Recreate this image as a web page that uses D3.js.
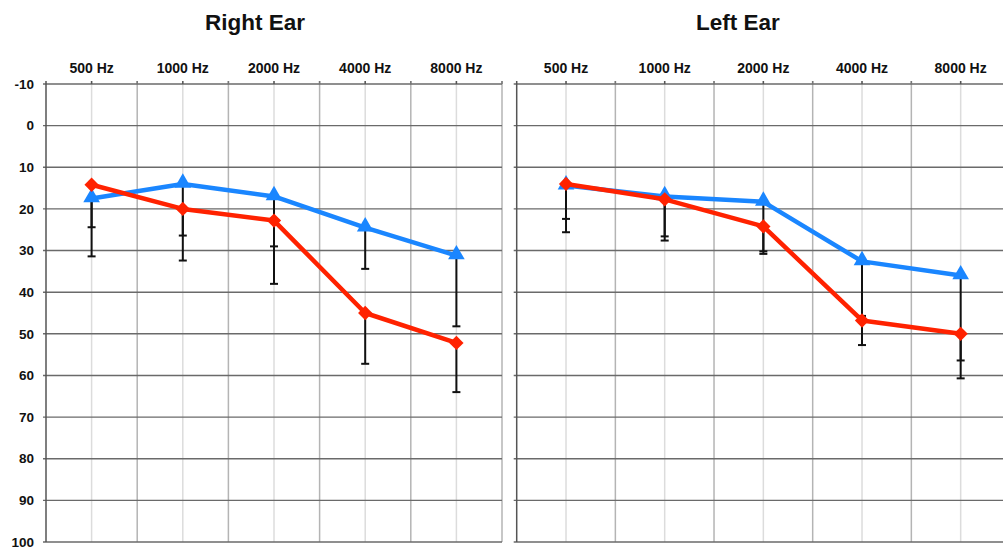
<!DOCTYPE html>
<html><head><meta charset="utf-8">
<script src="https://cdn.jsdelivr.net/npm/d3@7"></script>
<style>body{margin:0;background:#fff}svg{display:block}text{font-family:"Liberation Sans",Arial,sans-serif;font-weight:bold;fill:#111}</style>
</head><body><svg id="c" width="1003" height="550"></svg>
<script>
const freqs = ["500 Hz","1000 Hz","2000 Hz","4000 Hz","8000 Hz"];
const yTicks = [-10,0,10,20,30,40,50,60,70,80,90,100];
const panelTitles = ["Right Ear","Left Ear"];
// Right ear
const rightRed = [14.2, 20, 22.8, 45, 52.2];
const rightRedErr = [24.4, 26.4, 38, 57.2, 64];
const rightBlue = [17.5, 14, 17, 24.5, 31.2];
const rightBlueErr = [31.4, 32.4, 29, 34.4, 48.2];
// Left ear
const leftRed = [14, 17.7, 24.2, 46.8, 50];
const leftRedErr = [22.4, 26.6, 30.2, 52.7, 60.7];
const leftBlue = [14.4, 17, 18.3, 32.6, 36];
const leftBlueErr = [25.6, 27.6, 30.8, 45.7, 56.4];

const svg = d3.select("#c");
const y = d3.scaleLinear().domain([-10,100]).range([84,542]);
const RED = "#ff2200", BLUE = "#1a86ff";

const panels = [
  {title: panelTitles[0], x0: 46, x1: 502, tx: 255, yLabels: true,
   red: rightRed, redErr: rightRedErr, blue: rightBlue, blueErr: rightBlueErr},
  {title: panelTitles[1], x0: 516.7, x1: 1010, tx: 738, yLabels: false,
   red: leftRed, redErr: leftRedErr, blue: leftBlue, blueErr: leftBlueErr}
];

panels.forEach(p => {
  const g = svg.append("g");
  const x = d3.scaleBand().domain(freqs).range([p.x0, p.x1]).padding(0);
  const cx = f => x(f) + x.bandwidth()/2;
  const bounds = freqs.map(f => x(f)).concat([p.x1]);
  g.selectAll(".vb").data(bounds.slice(1)).join("line")
    .attr("x1", d=>d).attr("x2", d=>d).attr("y1", y(-10)-3).attr("y2", y(100))
    .attr("stroke", "#b4b4b4").attr("stroke-width", 1.5);
  g.selectAll(".vc").data(freqs).join("line")
    .attr("x1", d=>cx(d)).attr("x2", d=>cx(d)).attr("y1", y(-10)-3).attr("y2", y(100))
    .attr("stroke", "#dcdcdc").attr("stroke-width", 1.5);
  g.selectAll(".h").data(yTicks).join("line")
    .attr("x1", p.x0-3).attr("x2", p.x1).attr("y1", d=>y(d)).attr("y2", d=>y(d))
    .attr("stroke", "#6a6a6a").attr("stroke-width", 1.4);
  g.append("line").attr("x1", p.x0).attr("x2", p.x0).attr("y1", y(-10)-3).attr("y2", y(100))
    .attr("stroke", "#555").attr("stroke-width", 1.5);
  g.selectAll(".tt").data(freqs).join("line")
    .attr("x1", d=>cx(d)).attr("x2", d=>cx(d)).attr("y1", y(-10)-3).attr("y2", y(-10))
    .attr("stroke", "#555").attr("stroke-width", 1.5);
  g.selectAll(".tb").data(bounds.slice(1)).join("line")
    .attr("x1", d=>d).attr("x2", d=>d).attr("y1", y(-10)-3).attr("y2", y(-10))
    .attr("stroke", "#777").attr("stroke-width", 1.5);
  g.selectAll(".fl").data(freqs).join("text")
    .attr("x", d=>cx(d)).attr("y", 73).attr("text-anchor","middle")
    .attr("font-size", 14).text(d=>d);
  if (p.yLabels) {
    g.selectAll(".yl").data(yTicks).join("text")
      .attr("x", 34).attr("y", d=>y(d)).attr("dy","0.35em").attr("text-anchor","end")
      .attr("font-size", 13.5).text(d=>d);
  }
  g.append("text").attr("x", p.tx).attr("y", 30).attr("text-anchor","middle")
    .attr("font-size", 22.5).text(p.title);

  const errs = [];
  freqs.forEach((f,i) => {
    errs.push({f, v: p.red[i], e: p.redErr[i]});
    errs.push({f, v: p.blue[i], e: p.blueErr[i]});
  });
  g.selectAll(".eb").data(errs).join("line")
    .attr("x1", d=>cx(d.f)).attr("x2", d=>cx(d.f)).attr("y1", d=>y(d.v)).attr("y2", d=>y(d.e))
    .attr("stroke", "#111").attr("stroke-width", 2);
  g.selectAll(".ec").data(errs).join("line")
    .attr("x1", d=>cx(d.f)-4).attr("x2", d=>cx(d.f)+4).attr("y1", d=>y(d.e)).attr("y2", d=>y(d.e))
    .attr("stroke", "#111").attr("stroke-width", 2);

  const line = d3.line().x((d,i)=>cx(freqs[i])).y(d=>y(d));
  g.append("path").datum(p.blue).attr("d", line).attr("fill","none")
    .attr("stroke", BLUE).attr("stroke-width", 4.5).attr("stroke-linejoin","round");
  g.selectAll(".bm").data(p.blue).join("path")
    .attr("d", d3.symbol().type(d3.symbolTriangle).size(120))
    .attr("transform", (d,i)=>`translate(${cx(freqs[i])},${y(d)-1})`)
    .attr("fill", BLUE);
  g.append("path").datum(p.red).attr("d", line).attr("fill","none")
    .attr("stroke", RED).attr("stroke-width", 4.5).attr("stroke-linejoin","round");
  g.selectAll(".rm").data(p.red).join("path")
    .attr("d", d3.symbol().type(d3.symbolDiamond2).size(130))
    .attr("transform", (d,i)=>`translate(${cx(freqs[i])},${y(d)})`)
    .attr("fill", RED);
});
</script></body></html>
